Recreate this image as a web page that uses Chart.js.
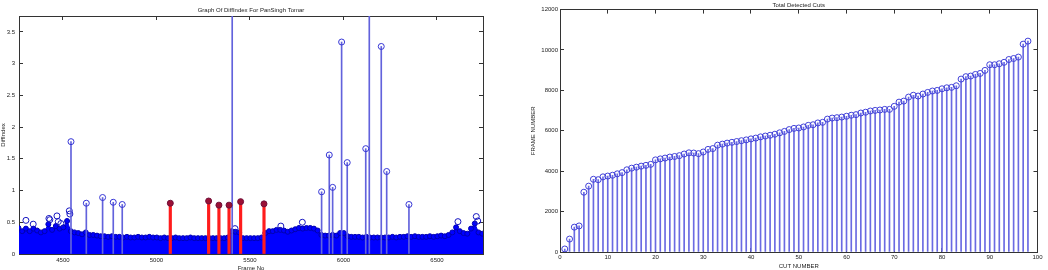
<!DOCTYPE html>
<html>
<head>
<meta charset="utf-8">
<title>DiffIndex and detected cuts</title>
<script src="https://cdn.jsdelivr.net/npm/chart.js@4.4.1/dist/chart.umd.min.js"></script>
<style>
  body { margin: 0; background: #fff; }
  #leftChart { position: absolute; left: 0; top: 0; }
  #rightChart { position: absolute; left: 528px; top: 0; }
</style>
</head>
<body>
<canvas id="leftChart" width="490" height="270"></canvas>
<canvas id="rightChart" width="520" height="270"></canvas>
<script>
/*******************************
 * Data
 *******************************/

// Left plot: the dense DiffIndex band, one sample every 20 frames.
const diffStart = 4262;
const diffStep = 20;
const diffBase = [
  0.41, 0.36, 0.40, 0.36, 0.40, 0.37, 0.34, 0.36, 0.47, 0.38,
  0.44, 0.40, 0.42, 0.52, 0.36, 0.34, 0.33, 0.31, 0.34, 0.30,
  0.30, 0.29, 0.28, 0.28, 0.27, 0.28, 0.27, 0.27, 0.26, 0.27,
  0.26, 0.26, 0.27, 0.26, 0.26, 0.27, 0.26, 0.26, 0.25, 0.26,
  0.25, 0.25, 0.26, 0.25, 0.25, 0.25, 0.26, 0.25, 0.25, 0.25,
  0.25, 0.25, 0.25, 0.25, 0.25, 0.25, 0.26, 0.36, 0.35, 0.34,
  0.25, 0.25, 0.25, 0.25, 0.25, 0.26, 0.33, 0.36, 0.36, 0.38,
  0.38, 0.37, 0.35, 0.37, 0.39, 0.41, 0.40, 0.41, 0.41, 0.40,
  0.37, 0.30, 0.29, 0.29, 0.30, 0.29, 0.33, 0.33, 0.28, 0.27,
  0.27, 0.27, 0.26, 0.27, 0.26, 0.26, 0.26, 0.26, 0.26, 0.26,
  0.27, 0.26, 0.27, 0.27, 0.28, 0.27, 0.28, 0.27, 0.27, 0.27,
  0.28, 0.27, 0.28, 0.29, 0.28, 0.30, 0.34, 0.42, 0.36, 0.33,
  0.32, 0.40, 0.48, 0.34, 0.32, 0.32
];

// Small peaks sticking out of the band
const peakFrames = [4302, 4341, 4425, 4430, 4468, 4475, 4489, 4534, 4537, 5420, 5665, 5780, 6612, 6710, 6718];
const peakValues = [0.53, 0.47, 0.56, 0.54, 0.60, 0.51, 0.48, 0.68, 0.63, 0.40, 0.44, 0.50, 0.51, 0.59, 0.52];

// Tall blue spikes (two of them run past the top of the axes)
const spikeFrames = [4543, 4625, 4712, 4769, 4817, 5405, 5883, 5924, 5942, 5990, 6020, 6119, 6138, 6202, 6231, 6350];
const spikeValues = [1.77, 0.80, 0.89, 0.815, 0.78, 4.6, 0.98, 1.56, 1.05, 3.34, 1.44, 1.66, 4.2, 3.27, 1.30, 0.78];

// Red stems: the detected cuts in this range
const cutFrames = [5074, 5279, 5334, 5388, 5450, 5575];
const cutValues = [0.80, 0.835, 0.77, 0.77, 0.825, 0.79];

const frameTicks = [4500, 5000, 5500, 6000, 6500];
const diffTicks = [0, 0.5, 1, 1.5, 2, 2.5, 3, 3.5];

// Right plot: frame number of every detected cut
const cutFrameNumbers = [
  150, 640, 1230, 1290, 2960, 3260, 3600, 3580, 3720, 3760,
  3800, 3870, 3930, 4070, 4150, 4200, 4250, 4290, 4340, 4560,
  4610, 4650, 4700, 4730, 4770, 4850, 4910, 4900, 4870, 4950,
  5080, 5120, 5290, 5340, 5390, 5430, 5470, 5510, 5550, 5600,
  5640, 5700, 5740, 5780, 5830, 5900, 5970, 6060, 6120, 6140,
  6190, 6270, 6300, 6390, 6420, 6580, 6630, 6650, 6680, 6720,
  6770, 6800, 6880, 6920, 6980, 7010, 7030, 7060, 7060, 7210,
  7420, 7470, 7670, 7760, 7720, 7820, 7900, 7970, 8000, 8080,
  8130, 8150, 8230, 8560, 8680, 8710, 8790, 8840, 8990, 9270,
  9270, 9320, 9390, 9530, 9580, 9650, 10290, 10440
];
const cutNumberTicks = [0, 10, 20, 30, 40, 50, 60, 70, 80, 90, 100];
const frameNumberTicks = [0, 2000, 4000, 6000, 8000, 10000, 12000];

/*******************************
 * Helpers
 *******************************/
const axisColor = '#333';
const textColor = '#222';
const fontFamily = '"Liberation Sans", Arial, sans-serif';
const tickFont = { family: fontFamily, size: 6 };

// Force an axis to a fixed thickness so the plot box lands where it should.
function fixedSize(size) {
  return function (scale) {
    if (scale.isHorizontal()) scale.height = size;
    else scale.width = size;
  };
}

function setTicks(values) {
  return function (scale) {
    scale.ticks = values.map(v => ({ value: v }));
  };
}

// MATLAB style axis: ticks pointing into the box, no grid.
function makeAxis(position, min, max, tickValues, size, padding, showLabels, title) {
  return {
    type: 'linear',
    position: position,
    min: min,
    max: max,
    offset: false,
    afterBuildTicks: setTicks(tickValues),
    afterFit: fixedSize(size),
    grid: { drawOnChartArea: false, drawTicks: true, tickLength: -4, offset: false, color: axisColor, lineWidth: 1 },
    border: { display: true, color: axisColor, width: 1 },
    ticks: {
      display: showLabels,
      font: tickFont,
      color: textColor,
      padding: padding,
      autoSkip: false,
      maxRotation: 0,
      callback: v => String(v)
    },
    title: title
      ? { display: true, text: title.text, font: { family: fontFamily, size: 6 }, color: textColor, padding: title.padding }
      : { display: false }
  };
}

function points(xs, ys) {
  return xs.map((x, i) => ({ x: x, y: ys[i] }));
}

/*******************************
 * Left chart: DiffIndex
 *******************************/
const basePoints = diffBase.map((v, i) => ({ x: diffStart + i * diffStep, y: v }));

new Chart(document.getElementById('leftChart').getContext('2d'), {
  type: 'scatter',
  data: {
    datasets: [
      {
        type: 'scatter',
        data: points(cutFrames, cutValues),
        pointRadius: 3,
        pointBackgroundColor: '#9b1035',
        pointBorderColor: '#70103a',
        pointBorderWidth: 1,
        order: 0
      },
      {
        type: 'bar',
        data: points(cutFrames, cutValues),
        backgroundColor: '#ff1c1c',
        barThickness: 2.5,
        grouped: false,
        clip: 0,
        order: 1
      },
      {
        type: 'scatter',
        data: points(spikeFrames, spikeValues),
        pointRadius: 3,
        pointBackgroundColor: 'rgba(0,0,0,0)',
        pointBorderColor: '#3535d5',
        pointBorderWidth: 1,
        order: 2
      },
      {
        type: 'bar',
        data: points(spikeFrames, spikeValues),
        backgroundColor: '#6262dc',
        barThickness: 1,
        grouped: false,
        clip: 0,
        order: 3
      },
      {
        type: 'scatter',
        data: points(peakFrames, peakValues),
        pointRadius: 3,
        pointBackgroundColor: 'rgba(0,0,0,0)',
        pointBorderColor: '#1515c0',
        pointBorderWidth: 1,
        order: 4
      },
      {
        type: 'line',
        data: basePoints,
        showLine: true,
        fill: 'origin',
        tension: 0,
        backgroundColor: '#0000ff',
        borderColor: '#0000dd',
        borderWidth: 1,
        pointRadius: 2.5,
        pointBackgroundColor: '#0000ff',
        pointBorderColor: '#0000b0',
        pointBorderWidth: 1,
        clip: 0,
        order: 5
      }
    ]
  },
  options: {
    responsive: false,
    animation: false,
    events: [],
    layout: { padding: 0 },
    plugins: {
      legend: { display: false },
      tooltip: { enabled: false },
      title: {
        display: true,
        text: 'Graph Of DiffIndex For PanSingh Tomar',
        fullSize: false,
        font: { family: fontFamily, size: 6, weight: 'normal' },
        color: textColor,
        padding: { top: 6.4, bottom: 2.4 }
      }
    },
    scales: {
      x: makeAxis('bottom', 4265, 6746, frameTicks, 16, 7, true, { text: 'Frame No', padding: { top: 0, bottom: -1.5 } }),
      x2: makeAxis('top', 4265, 6746, frameTicks, 0, 0, false, null),
      y: makeAxis('left', 0, 3.75, diffTicks, 19, 8, true, { text: 'DiffIndex', padding: { top: 0, bottom: 0 } }),
      y2: makeAxis('right', 0, 3.75, diffTicks, 7, 0, false, null)
    }
  }
});

/*******************************
 * Right chart: Total Detected Cuts
 *******************************/
const cutPoints = cutFrameNumbers.map((v, i) => ({ x: i + 1, y: v }));

new Chart(document.getElementById('rightChart').getContext('2d'), {
  type: 'scatter',
  data: {
    datasets: [
      {
        type: 'scatter',
        data: cutPoints,
        pointRadius: 3,
        pointBackgroundColor: 'rgba(0,0,0,0)',
        pointBorderColor: '#4040d8',
        pointBorderWidth: 1,
        order: 0
      },
      {
        type: 'bar',
        data: cutPoints,
        backgroundColor: '#6a6ae2',
        barThickness: 1,
        grouped: false,
        clip: 0,
        order: 1
      }
    ]
  },
  options: {
    responsive: false,
    animation: false,
    events: [],
    layout: { padding: 0 },
    plugins: {
      legend: { display: false },
      tooltip: { enabled: false },
      title: {
        display: true,
        text: 'Total Detected Cuts',
        fullSize: false,
        font: { family: fontFamily, size: 6, weight: 'normal' },
        color: textColor,
        padding: { top: 0.8, bottom: 1 }
      }
    },
    scales: {
      x: makeAxis('bottom', 0, 100, cutNumberTicks, 18, 5.5, true, { text: 'CUT NUMBER', padding: { top: 0, bottom: 0 } }),
      x2: makeAxis('top', 0, 100, cutNumberTicks, 0, 0, false, null),
      y: makeAxis('left', 0, 12000, frameNumberTicks, 32, 6, true, { text: 'FRAME NUMBER', padding: { top: 1.8, bottom: 0 } }),
      y2: makeAxis('right', 0, 12000, frameNumberTicks, 6, 0, false, null)
    }
  }
});
</script>
</body>
</html>
